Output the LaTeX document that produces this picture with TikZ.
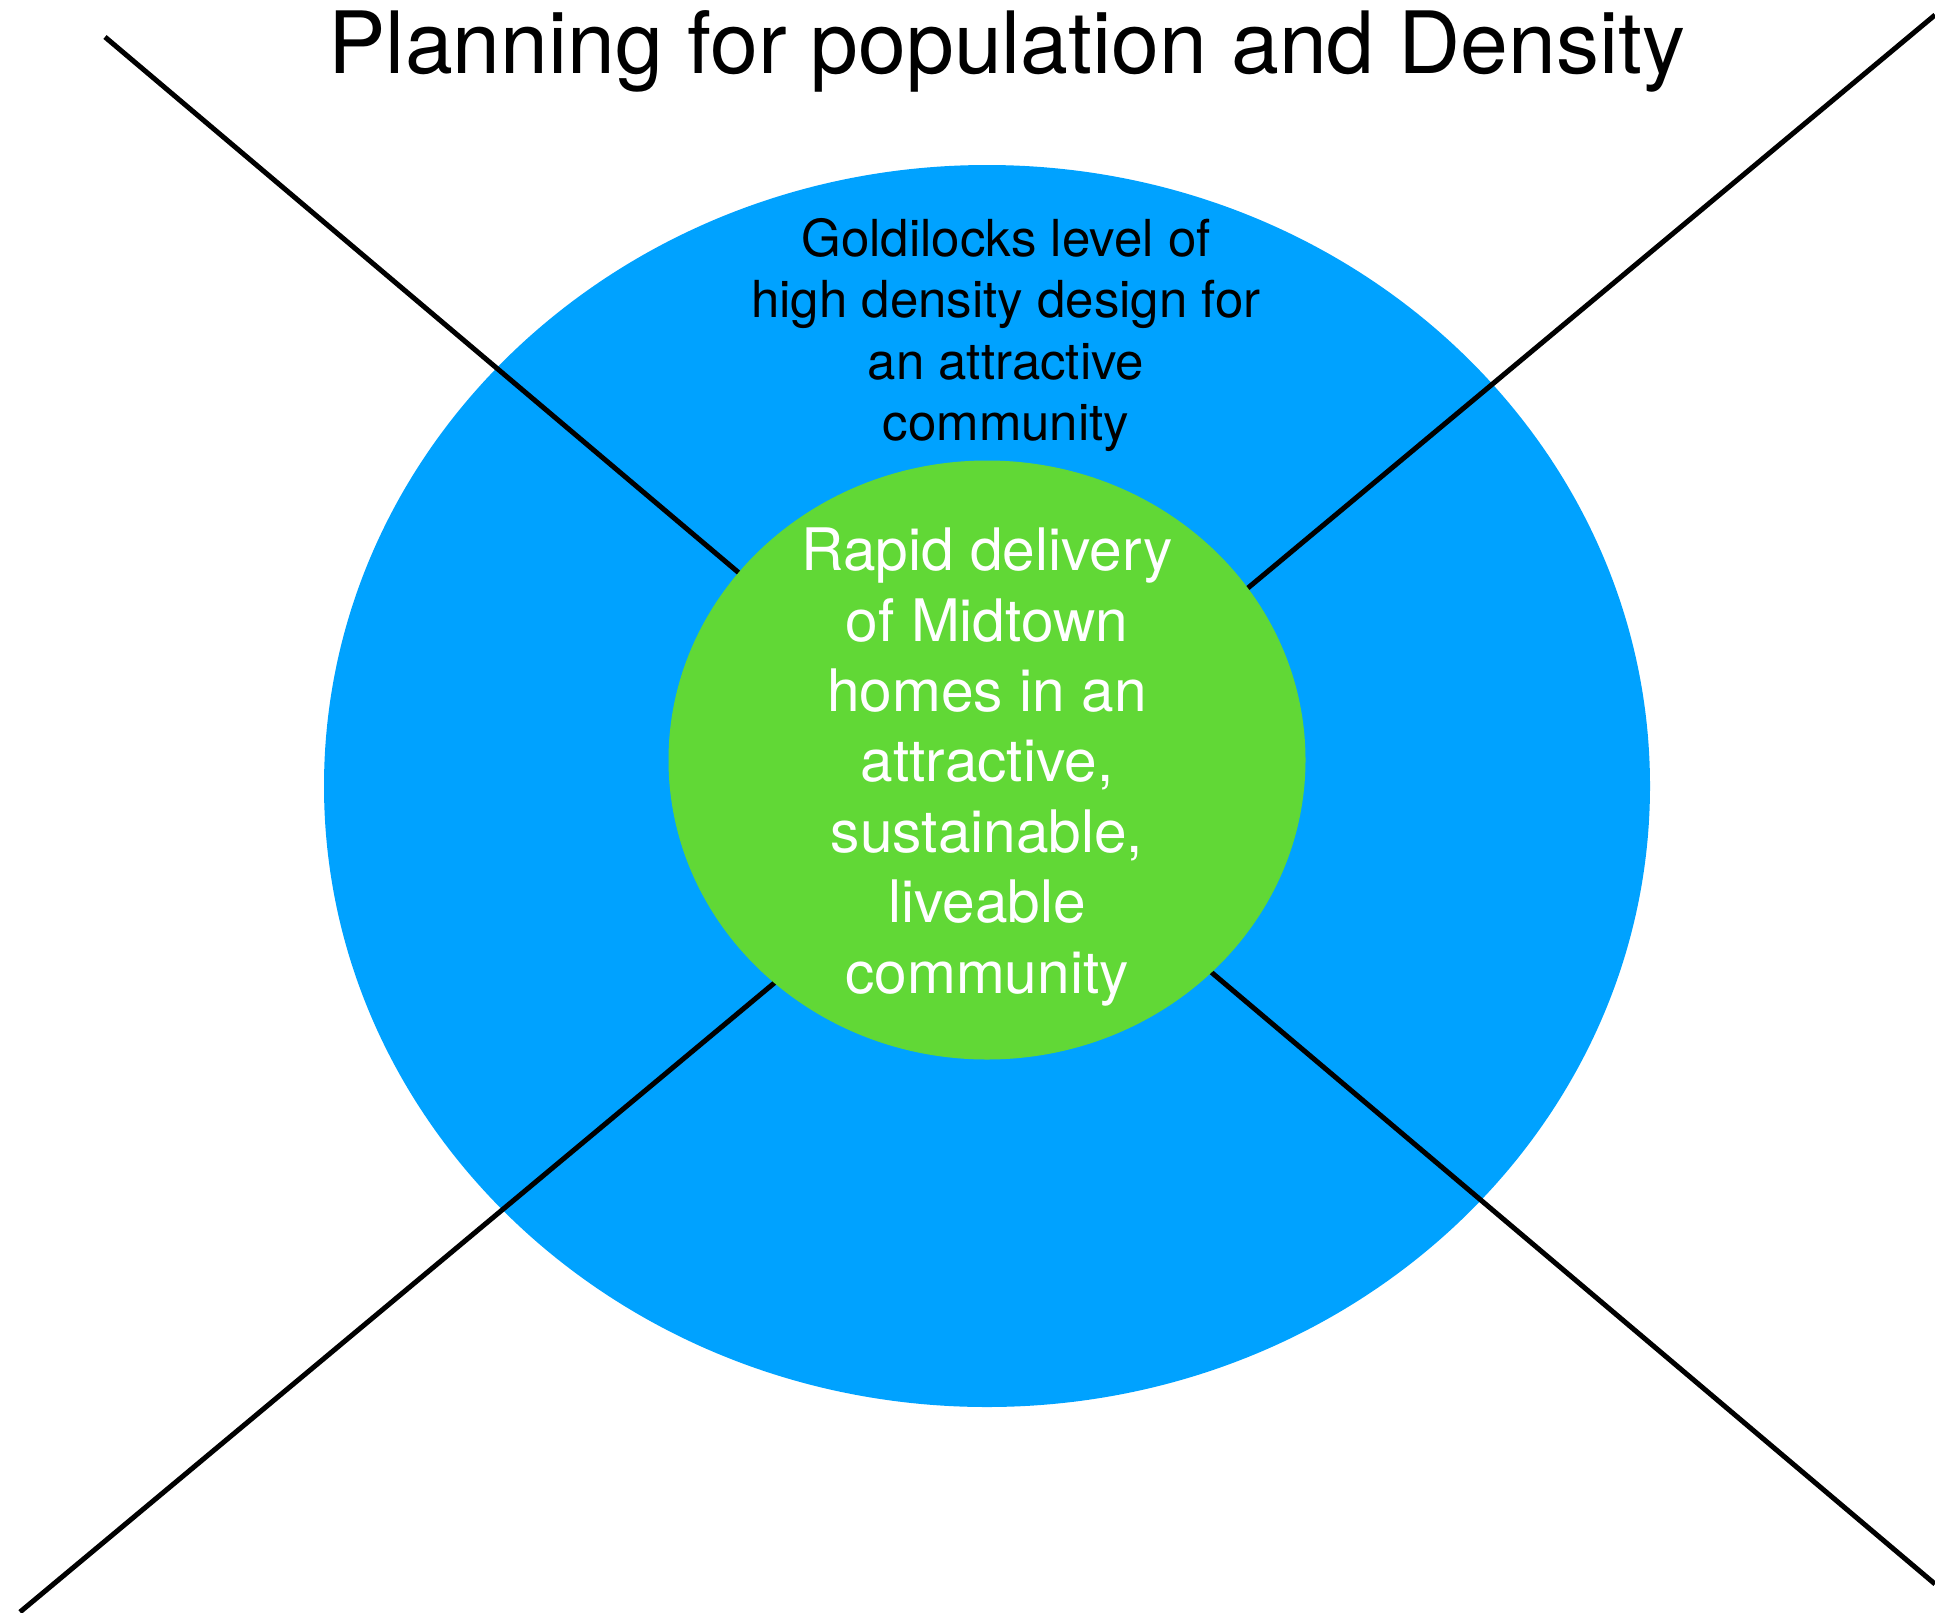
\documentclass[tikz,border=0pt]{standalone}
\usepackage{fontspec}
\setmainfont{TeX Gyre Heros}
\usetikzlibrary{shapes.geometric}

\definecolor{ringblue}{HTML}{00A2FF}
\definecolor{coregreen}{HTML}{61D836}

\tikzset{
  ring/.style={ellipse, inner sep=0pt, draw=none},
  cross/.style={line width=5pt, black},
  label/.style={align=center, inner sep=0pt}
}

\begin{document}
\begin{tikzpicture}[x=1pt,y=-1pt]
\useasboundingbox (0,0) rectangle (1935,1612);

\node[ring, fill=ringblue, minimum width=1326pt, minimum height=1242pt] (outer) at (987,786) {};

% the two crossing lines go under the green core
\coordinate (nw) at (105,37);
\coordinate (se) at (1935,1584);
\coordinate (ne) at (1935,15);
\coordinate (sw) at (20,1612);
\draw[cross] (nw) -- (se);
\draw[cross] (ne) -- (sw);

\node[ring, fill=coregreen, minimum width=637pt, minimum height=599pt] (core) at (987,760) {};

\node[anchor=base] (title) at (1007,73) {\fontsize{86}{103}\selectfont Planning for population and Density};

\node[label, font=\fontsize{51}{61.5}\selectfont] (outertext) at (1006,335) {
    Goldilocks level of\\
    high density design for\\
    an attractive\\
    community
};

\node[label, text=white, font=\fontsize{58.6}{70.4}\selectfont] (coretext) at (987,767) {
    Rapid delivery\\
    of Midtown\\
    homes in an\\
    attractive,\\
    sustainable,\\
    liveable\\
    community
};

\end{tikzpicture}
\end{document}
